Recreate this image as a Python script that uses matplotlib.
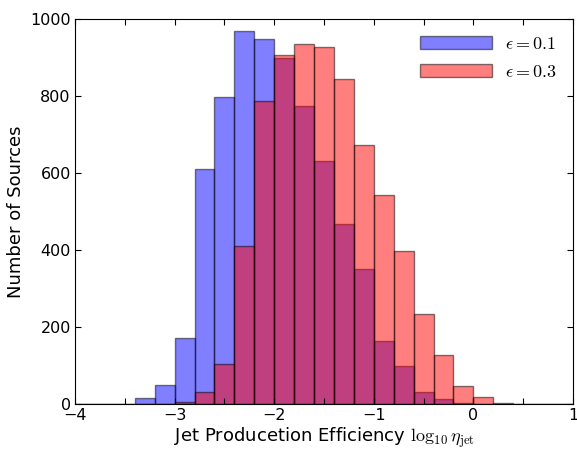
import numpy as np
import matplotlib
matplotlib.use("Agg")
import matplotlib.pyplot as plt

plt.rcParams['mathtext.fontset'] = 'cm'
plt.rcParams['font.family'] = 'DejaVu Sans'
plt.rcParams['font.size'] = 11.5

# bin edges, width 0.2, from -4 to 1
edges = np.round(np.arange(-4.0, 1.0001, 0.2), 1)

# counts per bin (25 bins)
eps01 = [1, 0, 1, 15, 49, 172, 610, 798, 969, 949,
         899, 775, 630, 468, 351, 164, 100, 31, 12, 3,
         0, 0, 0, 0, 0]
eps03 = [0, 0, 0, 0, 0, 5, 31, 104, 411, 788,
         907, 936, 926, 845, 672, 544, 398, 233, 128, 48,
         19, 4, 1, 1, 0]

centers = 0.5 * (edges[:-1] + edges[1:])

fig = plt.figure(figsize=(5.77, 4.5), dpi=100)
ax = fig.add_axes([0.130, 0.102, 0.863, 0.856])

ax.hist(centers, bins=edges, weights=eps01, color='b', alpha=0.5,
        edgecolor='k', linewidth=1.0, label=r'$\epsilon=0.1$')
ax.hist(centers, bins=edges, weights=eps03, color='r', alpha=0.5,
        edgecolor='k', linewidth=1.0, label=r'$\epsilon=0.3$')

ax.set_xlim(-4, 1)
ax.set_ylim(0, 1000)
ax.set_xticks(np.arange(-4, 1.01, 0.5))
ax.set_xticklabels(['\u22124', '', '\u22123', '', '\u22122', '', '\u22121', '', '0', '', '1'])
ax.set_yticks(np.arange(0, 1001, 200))
ax.tick_params(direction='in', top=True, right=True, length=4, width=0.8, pad=3)
for s in ax.spines.values():
    s.set_linewidth(0.8)

ax.set_xlabel(r'Jet Producetion Efficiency $\log_{10}\eta_{\rm jet}$', fontsize=13, labelpad=1)
ax.set_ylabel('Number of Sources', fontsize=13)

ax.legend(loc='upper right', frameon=False, handlelength=4.0, handleheight=0.75,
          fontsize=13, borderaxespad=0.5, labelspacing=0.55, handletextpad=0.7)

fig.savefig('out.png', dpi=100)
